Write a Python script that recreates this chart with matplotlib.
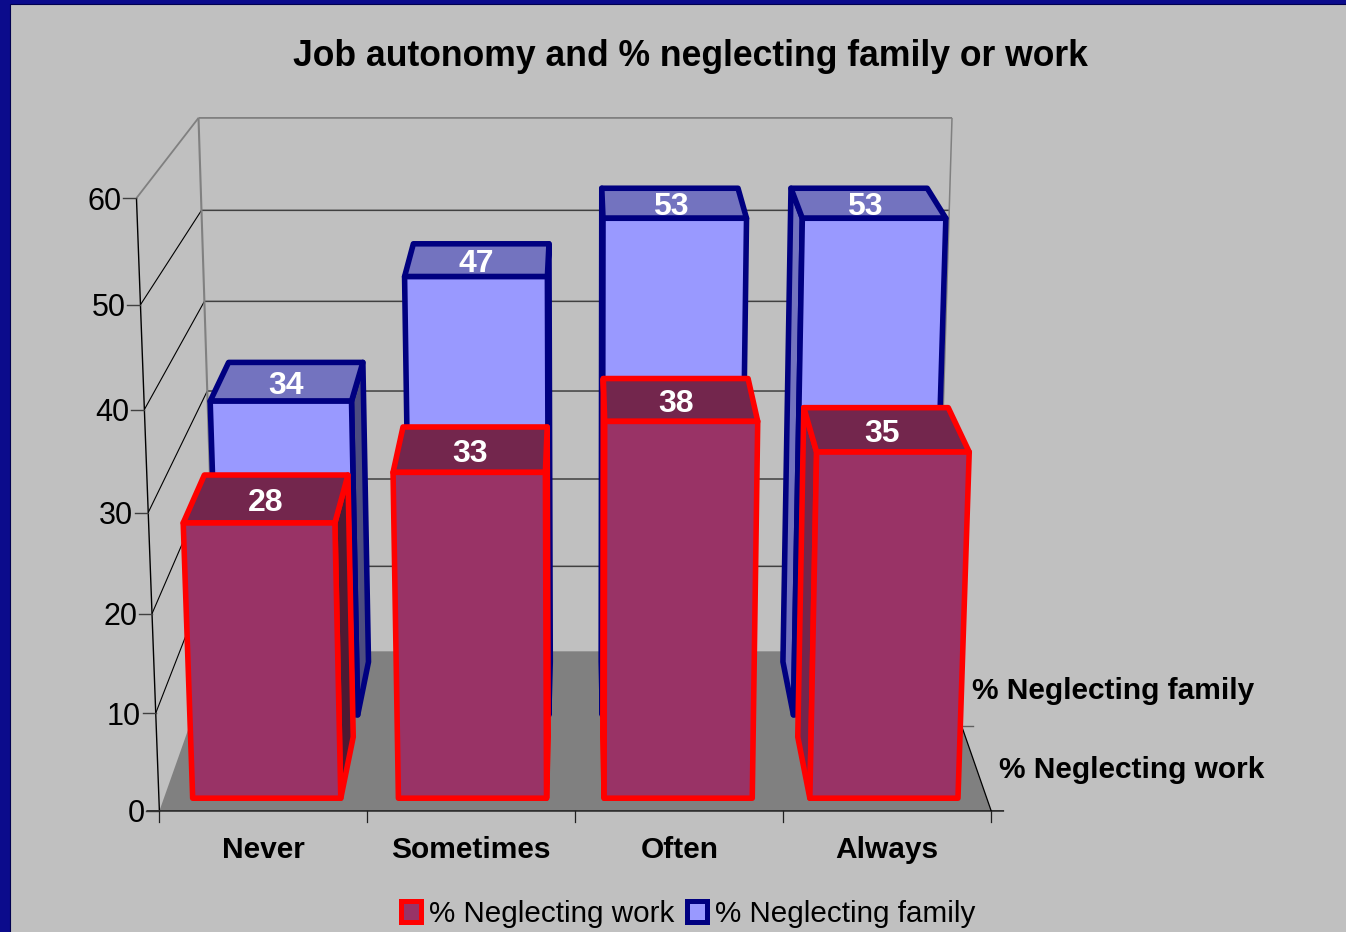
import numpy as np
import matplotlib
matplotlib.use("Agg")
import matplotlib.pyplot as plt
from matplotlib.patches import Patch, Polygon, Rectangle

# Chart content
TITLE = "Job autonomy and % neglecting family or work"
categories = ["Never", "Sometimes", "Often", "Always"]
work_values = [28, 33, 38, 35]
family_values = [34, 47, 53, 53]
y_ticks = [0, 10, 20, 30, 40, 50, 60]
work_name = "% Neglecting work"
family_name = "% Neglecting family"

# Colours
BG = "#c0c0c0"
BAND = "#0b0b8c"
FLOOR = "#808080"
WALL_EDGE = "#808080"
GRID = "#404040"
WORK_FACE, WORK_EDGE = "#993366", "#ff0000"
FAMILY_FACE, FAMILY_EDGE = "#9999ff", "#000080"

plt.rcParams["font.family"] = ["Liberation Sans", "DejaVu Sans"]

W, H = 1346, 932
fig = plt.figure(figsize=(W / 100, H / 100), dpi=100, facecolor=BG)
ax = fig.add_axes([0, 0, 1, 1])
ax.set_xlim(0, W)
ax.set_ylim(H, 0)
ax.axis("off")

# Perspective camera: category position, depth (0 front, 1 back), value -> canvas
n_cat = len(categories)
z_max = y_ticks[-1]
box_corners = [
    (0, 0, 0, 159, 811), (n_cat, 0, 0, 991, 811),
    (0, 0, z_max, 137, 198), (n_cat, 0, z_max, 1013, 198),
    (0, 1, 0, 216, 652), (n_cat, 1, 0, 936, 652),
    (0, 1, z_max, 198, 118), (n_cat, 1, z_max, 952, 118),
]
rows = []
for u, d, z, px, py in box_corners:
    rows.append([u, d, z, 1, 0, 0, 0, 0, -px * u, -px * d, -px * z, -px])
    rows.append([0, 0, 0, 0, u, d, z, 1, -py * u, -py * d, -py * z, -py])
camera = np.linalg.svd(np.array(rows, float))[2][-1].reshape(3, 4)


def project(u, d, z):
    x, y, w = camera @ np.array([u, d, z, 1.0])
    return x / w, y / w


def seg(a, b, **kw):
    pa, pb = project(*a), project(*b)
    ax.plot([pa[0], pb[0]], [pa[1], pb[1]], solid_capstyle="butt", **kw)


def shade(colour, k):
    rgb = np.array(matplotlib.colors.to_rgb(colour)) * k
    return tuple(rgb)


# Floor
ax.add_patch(Polygon([project(0, 0, 0), project(n_cat, 0, 0),
                      project(n_cat, 1, 0), project(0, 1, 0)],
                     closed=True, fc=FLOOR, ec="none", zorder=1))

# Back wall and side wall grid
for t in y_ticks[1:-1]:
    seg((0, 1, t), (n_cat, 1, t), color=GRID, lw=1.1, zorder=1.5)
    seg((0, 0, t), (0, 1, t), color="#000000", lw=0.8, zorder=1.5)
seg((0, 1, 0), (n_cat, 1, 0), color=WALL_EDGE, lw=1.1, zorder=1.5)
seg((0, 1, z_max), (n_cat, 1, z_max), color=WALL_EDGE, lw=1.3, zorder=1.5)
seg((0, 0, z_max), (0, 1, z_max), color=WALL_EDGE, lw=1.3, zorder=1.5)
seg((0, 1, 0), (0, 1, z_max), color=WALL_EDGE, lw=1.5, zorder=1.5)
seg((n_cat, 1, 0), (n_cat, 1, z_max), color=WALL_EDGE, lw=1.1, zorder=1.5)

# Vertical axis with ticks and labels
seg((0, 0, 0), (0, 0, z_max), color="#000000", lw=1.0, zorder=1.6)
for t in y_ticks:
    x, y = project(0, 0, t)
    ax.plot([x - 13, x], [y, y], color="#404040", lw=1.0, zorder=1.6)
    ax.text(x - 15, y, str(t), ha="right", va="center_baseline", fontsize=22, color="black")

# Horizontal axis with ticks and labels
x0, y0 = project(0, 0, 0)
x1, y1 = project(n_cat, 0, 0)
ax.plot([x0 - 12, x1 + 12], [y0, y1], color="#303030", lw=1.3, zorder=1.6)
for i in range(n_cat + 1):
    x, y = project(i, 0, 0)
    ax.plot([x, x], [y, y + 11], color="#202020", lw=0.9, zorder=1.6)
for i, name in enumerate(categories):
    x, y = project(i + 0.5, 0, 0)
    ax.text(x, y + 36, name, ha="center", va="center_baseline",
            fontsize=21.5, fontweight="bold", color="black")

# Depth axis along the right floor edge, with the series names
seg((n_cat, 0, 0), (n_cat, 0.5, 0), color="#000000", lw=0.9, zorder=1.6)
x, y = project(n_cat, 0.5, 0)
ax.plot([x, x + 11], [y, y], color="#606060", lw=1.0, zorder=1.6)
for d, name in [(0.25, work_name), (0.75, family_name)]:
    x, y = project(n_cat, d, 0)
    ax.text(x + 23.5, y, name, ha="left", va="center_baseline",
            fontsize=21.5, fontweight="bold", color="black")


def draw_bar(i, value, d0, d1, face, edge, z):
    """Draw one box with its visible faces and its value on the lid."""
    u0, u1 = i + 0.14, i + 0.86
    vanish_x = project(n_cat / 2, 0, 0)[0]
    style = dict(closed=True, ec=edge, lw=4.0, joinstyle="round", zorder=z)
    if project(u0, d0, 0)[0] > vanish_x:
        ax.add_patch(Polygon([project(u0, d0, 0), project(u0, d1, 0),
                              project(u0, d1, value), project(u0, d0, value)],
                             fc=shade(face, 0.75), **style))
    if project(u1, d0, 0)[0] < vanish_x:
        ax.add_patch(Polygon([project(u1, d0, 0), project(u1, d1, 0),
                              project(u1, d1, value), project(u1, d0, value)],
                             fc=shade(face, 0.5), **style))
    ax.add_patch(Polygon([project(u0, d0, value), project(u1, d0, value),
                          project(u1, d1, value), project(u0, d1, value)],
                         fc=shade(face, 0.75), **style))
    ax.add_patch(Polygon([project(u0, d0, 0), project(u1, d0, 0),
                          project(u1, d0, value), project(u0, d0, value)],
                         fc=face, **style))
    lx, ly = project(i + 0.5, (d0 + d1) / 2, value)
    ax.text(lx - 2, ly + 1, str(value), ha="center", va="center_baseline", fontsize=23,
            fontweight="bold", color="white", zorder=z + 0.1)


# Back row first, then the front row over it
for i, v in enumerate(family_values):
    draw_bar(i, v, 0.57, 0.93, FAMILY_FACE, FAMILY_EDGE, 3 + i * 0.01)
for i, v in enumerate(work_values):
    draw_bar(i, v, 0.07, 0.43, WORK_FACE, WORK_EDGE, 4 + i * 0.01)

# Title and legend
ax.text(690, 53, TITLE, ha="center", va="center_baseline",
        fontsize=25.6, fontweight="bold", color="black")
handles = [Patch(fc=WORK_FACE, ec=WORK_EDGE, lw=3.6, label=work_name),
           Patch(fc=FAMILY_FACE, ec=FAMILY_EDGE, lw=3.6, label=family_name)]
ax.legend(handles=handles, loc="center", bbox_to_anchor=(688 / W, 1 - 914 / H),
          ncol=2, frameon=False, fontsize=21.3, handlelength=0.68, handleheight=0.68,
          handletextpad=0.27, columnspacing=0.42, borderpad=0, labelcolor="black")

# Slide frame along the top and left edges
ax.add_patch(Rectangle((0, 0), 10, H, fc=BAND, ec="none", zorder=10))
ax.add_patch(Rectangle((0, 0), W, 4, fc=BAND, ec="none", zorder=10))
ax.plot([9.5, 9.5, W], [H, 4, 4], color="#000050", lw=0.8, zorder=10)

fig.savefig("out.png", dpi=100, facecolor=BG)
